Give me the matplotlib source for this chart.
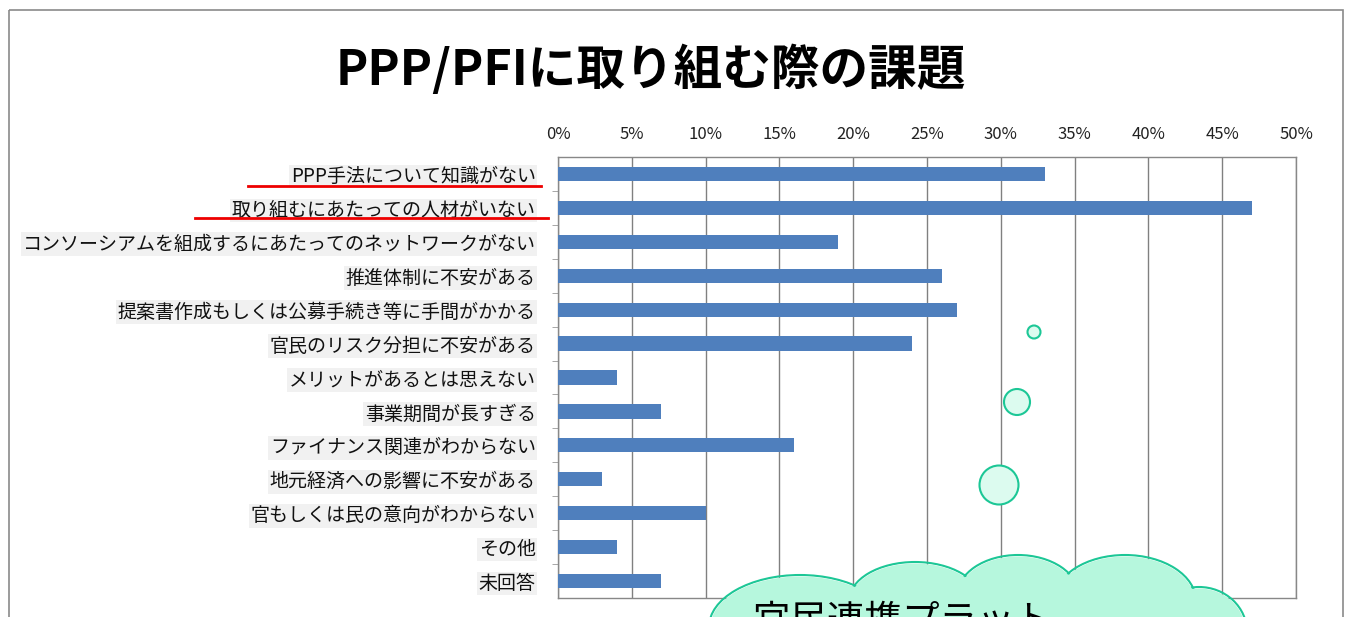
import matplotlib
matplotlib.use("Agg")
import matplotlib.pyplot as plt
from matplotlib.patches import Ellipse, Rectangle
from matplotlib.lines import Line2D

plt.rcParams['font.family'] = ['Noto Sans CJK JP', 'DejaVu Sans']

title = "PPP/PFIに取り組む際の課題"
categories = [
    "PPP手法について知識がない",
    "取り組むにあたっての人材がいない",
    "コンソーシアムを組成するにあたってのネットワークがない",
    "推進体制に不安がある",
    "提案書作成もしくは公募手続き等に手間がかかる",
    "官民のリスク分担に不安がある",
    "メリットがあるとは思えない",
    "事業期間が長すぎる",
    "ファイナンス関連がわからない",
    "地元経済への影響に不安がある",
    "官もしくは民の意向がわからない",
    "その他",
    "未回答",
]
values = [33, 47, 19, 26, 27, 24, 4, 7, 16, 3, 10, 4, 7]
xticks = [0, 5, 10, 15, 20, 25, 30, 35, 40, 45, 50]
xtick_labels = [f"{t}%" for t in xticks]
cloud_text = "官民連携プラット"

W, H = 1347, 617
fig = plt.figure(figsize=(W / 100, H / 100), dpi=100)
fig.patch.set_facecolor('white')

# main chart axes
ax = fig.add_axes([558 / W, 1 - 598 / H, (1296 - 558) / W, (598 - 157) / H])
ypos = list(range(len(categories)))
ax.barh(ypos, values, height=0.42, color='#4f7fbd', zorder=3)
ax.set_xlim(0, 50)
ax.set_ylim(len(categories) - 0.5, -0.5)
ax.set_xticks(xticks)
ax.set_xticklabels(xtick_labels, fontsize=12, color='#222222')
ax.xaxis.tick_top()
ax.tick_params(axis='x', length=0, pad=10)
ax.set_yticks(ypos)
ax.set_yticklabels(categories, fontsize=13.7, color='#111111')
ax.tick_params(axis='y', length=0, pad=16)
for lab in ax.get_yticklabels():
    lab.set_bbox(dict(facecolor='#f1f1f1', edgecolor='none', pad=1.0))
ax.set_yticks([y + 0.5 for y in ypos[:-1]], minor=True)
ax.tick_params(axis='y', which='minor', length=4, color='#999999', direction='out')
ax.grid(axis='x', color='#808080', linewidth=1.0, zorder=1)
for s in ax.spines.values():
    s.set_color('#888888')
    s.set_linewidth(1.0)

# overlay for decorations (pixel coordinates)
ov = fig.add_axes([0, 0, 1, 1], facecolor='none')
ov.set_xlim(0, W)
ov.set_ylim(H, 0)
ov.axis('off')

# outer frame
ov.add_patch(Rectangle((9, 10), 1334, 640, fill=False, edgecolor='#8a8a8a', linewidth=1.2))

# title
ov.text(651, 70, title, fontsize=35, fontweight='bold', ha='center', va='center', color='black')

# red underlines
ov.add_line(Line2D([248, 541], [186, 186], color='#ee0000', linewidth=2))
ov.add_line(Line2D([195, 548], [218, 218], color='#ee0000', linewidth=2))

# thought bubbles
edge = '#1cc796'
for (cx, cy, r) in [(1034, 332, 6.5), (1017, 402, 13), (999, 485, 19.5)]:
    ov.add_patch(Ellipse((cx, cy), 2 * r, 2 * r, facecolor='#dcfbef', edgecolor=edge, linewidth=1.5, zorder=5))

# cloud (center x, center y, full width, full height)
bumps = [
    (800, 627, 182, 104),
    (915, 601, 132, 78),
    (1018, 596, 122, 82),
    (1125, 601, 142, 92),
    (1199, 632, 96, 90),
    (980, 645, 470, 80),
]
for (cx, cy, w, h) in bumps:
    ov.add_patch(Ellipse((cx, cy), w, h, facecolor='none', edgecolor=edge, linewidth=1.5, zorder=6))
for (cx, cy, w, h) in bumps:
    ov.add_patch(Ellipse((cx, cy), w - 3, h - 3, facecolor='#b6f7dd', edgecolor='none', zorder=7))

ov.text(752, 602, cloud_text, fontsize=27, ha='left', va='top', color='black', zorder=8)

fig.savefig('out.png', dpi=100)
